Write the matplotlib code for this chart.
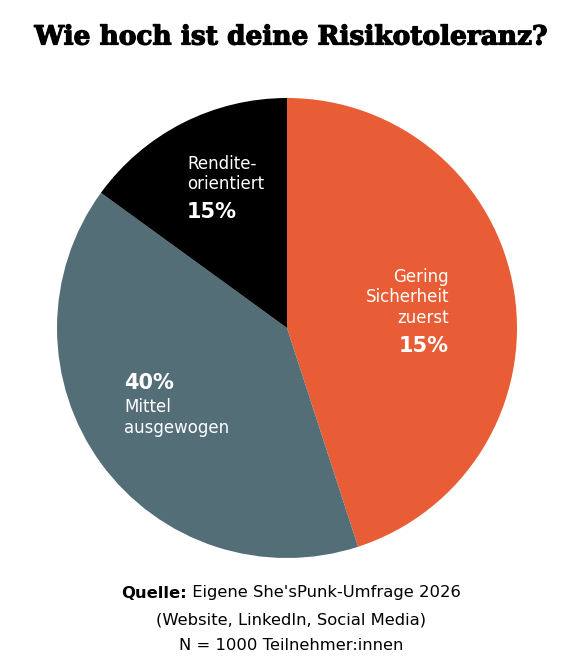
import matplotlib.pyplot as plt
import matplotlib.patheffects as pe

# Daten
categories = ['Gering\nSicherheit\nzuerst', 'Mittel\nausgewogen', 'Rendite-\norientiert']
values = [45, 40, 15]
pct_labels = ['15%', '40%', '15%']  # so wie im Original beschriftet
colors = ['#E85D35', '#546E78', '#000000']

W, H = 582, 663
fig = plt.figure(figsize=(W / 100, H / 100), dpi=100)

# Kreis: Mitte (287, 328) px, Radius 230 px
cx, cy, r = 287, 328, 230
ax = fig.add_axes([(cx - r) / W, (H - cy - r) / H, 2 * r / W, 2 * r / H])
ax.pie(values, colors=colors, startangle=90, counterclock=False,
       radius=1, wedgeprops=dict(linewidth=0))
ax.set_xlim(-1, 1)
ax.set_ylim(-1, 1)
ax.set_aspect('equal')
ax.axis('off')


def px(x, y):
    return (x - cx) / r, (cy - y) / r


font = 'DejaVu Sans'
reg = dict(color='white', fontsize=12, family=font, va='center')
big = dict(color='white', fontsize=15, family=font, fontweight='bold', va='center')

# Rendite-orientiert
ax.text(*px(187, 164), 'Rendite-', ha='left', **reg)
ax.text(*px(187, 184), 'orientiert', ha='left', **reg)
ax.text(*px(187, 212), pct_labels[2], ha='left', **big)

# Gering / Sicherheit zuerst
for (line, y) in zip(categories[0].split('\n'), [277, 297, 318]):
    ax.text(*px(449, y), line, ha='right', **reg)
ax.text(*px(449, 346), pct_labels[0], ha='right', **big)

# Mittel
ax.text(*px(124, 383), pct_labels[1], ha='left', **big)
for (line, y) in zip(categories[1].split('\n'), [407, 428]):
    ax.text(*px(124, y), line, ha='left', **reg)

# Titel (etwas kräftiger durch Kontur)
fig.text(0.5, 1 - 37 / H, 'Wie hoch ist deine Risikotoleranz?', ha='center', va='center',
         fontsize=19, family='DejaVu Serif', fontweight='bold',
         path_effects=[pe.withStroke(linewidth=0.9, foreground='black')])

# Quelle (fett + normal in einer Zeile)
src = dict(va='center', fontsize=11.8, family=font)
renderer = fig.canvas.get_renderer()
t1 = fig.text(0, 1 - 593 / H, 'Quelle:', fontweight='bold', ha='left', **src)
t2 = fig.text(0, 1 - 593 / H, " Eigene She'sPunk-Umfrage 2026", ha='left', **src)
w1 = t1.get_window_extent(renderer).width
w2 = t2.get_window_extent(renderer).width
x0 = (W - w1 - w2) / 2
t1.set_x(x0 / W)
t2.set_x((x0 + w1) / W)
fig.text(0.5, 1 - 620 / H, '(Website, LinkedIn, Social Media)', ha='center', **src)
fig.text(0.5, 1 - 645 / H, 'N = 1000 Teilnehmer:innen', ha='center', **src)

fig.savefig('out.png', dpi=100, facecolor='white')
